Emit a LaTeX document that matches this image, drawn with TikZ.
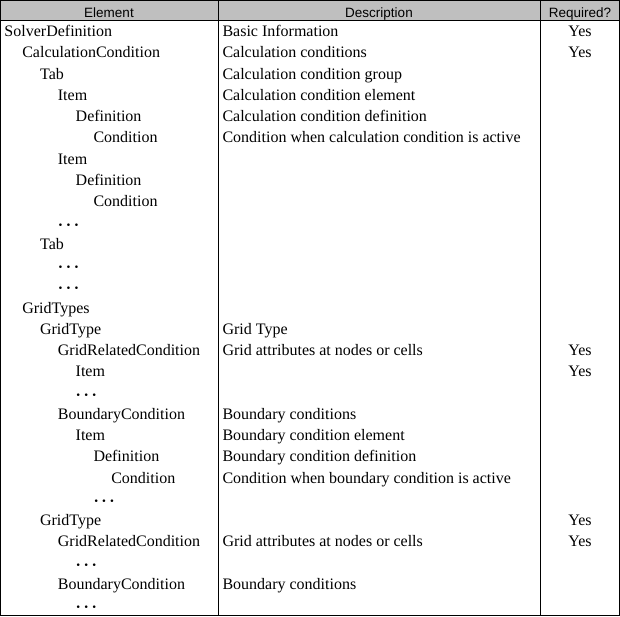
\documentclass[tikz,border=0pt]{standalone}
\usepackage{fontspec}
\setmainfont{Liberation Serif}
\newfontfamily\headfont{Liberation Sans}
\newcommand{\etcdots}{\raisebox{-2pt}{\textbf{·\,·\,·}}}

\begin{document}
\begin{tikzpicture}[x=1pt,y=-1pt,line width=1pt,
    cell/.style={anchor=base west,inner sep=0pt,font=\fontsize{16}{16}\selectfont},
    yes/.style={anchor=base,inner sep=0pt,font=\fontsize{16}{16}\selectfont},
    head/.style={anchor=base,inner sep=0pt,font=\headfont\fontsize{13.5}{13.5}\selectfont}]
    \useasboundingbox (0,0) rectangle (620,617);
    % header
    \fill[black!25] (0.5,0.5) rectangle (619.5,21);
    \node[head] (hElem) at (109,17.3) {Element};
    \node[head] (hDesc) at (379,17.3) {Description};
    \node[head] (hReq) at (580,17.3) {Required?};
    % rows: level/element/description/required
    \foreach \lvl/\elem/\desc/\req [count=\i] in {
        0/SolverDefinition/Basic Information/Yes,
        1/CalculationCondition/Calculation conditions/Yes,
        2/Tab/Calculation condition group/{},
        3/Item/Calculation condition element/{},
        4/Definition/Calculation condition definition/{},
        5/Condition/Condition when calculation condition is active/{},
        3/Item/{}/{},
        4/Definition/{}/{},
        5/Condition/{}/{},
        3/\etcdots/{}/{},
        2/Tab/{}/{},
        3/\etcdots/{}/{},
        3/\etcdots/{}/{},
        1/GridTypes/{}/{},
        2/GridType/Grid Type/{},
        3/GridRelatedCondition/Grid attributes at nodes or cells/Yes,
        4/Item/{}/Yes,
        4/\etcdots/{}/{},
        3/BoundaryCondition/Boundary conditions/{},
        4/Item/Boundary condition element/{},
        5/Definition/Boundary condition definition/{},
        6/Condition/Condition when boundary condition is active/{},
        5/\etcdots/{}/{},
        2/GridType/{}/Yes,
        3/GridRelatedCondition/Grid attributes at nodes or cells/Yes,
        4/\etcdots/{}/{},
        3/BoundaryCondition/Boundary conditions/{},
        4/\etcdots/{}/{}} {
      \pgfmathsetmacro\by{36.7+(\i-1)*21.26}
      \node[cell] (el\i) at ({4+17.8*\lvl},\by) {\elem};
      \node[cell] (ds\i) at (222,\by) {\desc};
      \node[yes] (rq\i) at (580,\by) {\req};
    }
    % grid lines
    \draw (0.5,0.5) rectangle (619.5,615.5);
    \draw (0.5,21) -- (619.5,21);
    \draw (218.5,0.5) -- (218.5,615.5);
    \draw (540.5,0.5) -- (540.5,615.5);
\end{tikzpicture}
\end{document}
